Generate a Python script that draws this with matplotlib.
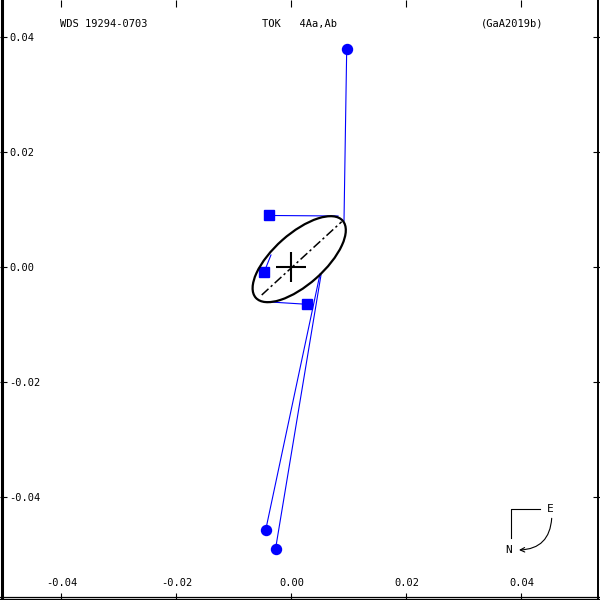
import numpy as np
import matplotlib
matplotlib.use("Agg")
import matplotlib.pyplot as plt
from matplotlib.patches import Ellipse

plt.rcParams['font.family'] = ['DejaVu Sans Mono']
plt.rcParams['axes.unicode_minus'] = False

# observed positions (arcsec) and the orbit positions they are tied to
obs_x = [0.0096, -0.00383, -0.00473, 0.00275, -0.00449, -0.00278]
obs_y = [0.03786, 0.00896, -0.00082, -0.00649, -0.04574, -0.04904]
obs_marker = ['o', 's', 's', 's', 'o', 'o']
calc_x = [0.00913, 0.00809, -0.00357, -0.00461, 0.00496, 0.00513]
calc_y = [0.0080, 0.00887, 0.00209, -0.00603, -0.00122, -0.00139]

# apparent orbit ellipse
orbit_center = (0.00134, 0.00136)
orbit_semi_major = 0.0101
orbit_semi_minor = 0.00443
orbit_angle = 41.6

# line of apsides
apsides_x = [-0.00518, 0.00873]
apsides_y = [-0.00487, 0.00788]

ticks = [-0.04, -0.02, 0.0, 0.02, 0.04]
tick_labels = ['-0.04', '-0.02', '0.00', '0.02', '0.04']

title_left = "WDS 19294-0703"
title_mid = "TOK   4Aa,Ab"
title_right = "(GaA2019b)"

PX = 600.0


def fx(px):
    return px / PX


def fy(py):
    return 1 - py / PX


fig = plt.figure(figsize=(6, 6), dpi=100)
ax = fig.add_axes([0, 0, 1, 1])
scale = 5750.0
ax.set_xlim(-291.5 / scale, (PX - 291.5) / scale)
ax.set_ylim(-(PX - 267) / scale, 267 / scale)

for s in ax.spines.values():
    s.set_visible(False)

# frame
ax.plot([fx(1.5), fx(1.5)], [0, 1], color='black', lw=2.2, transform=ax.transAxes, clip_on=False)
ax.plot([fx(597.8), fx(597.8)], [0, 1], color='black', lw=1.4, transform=ax.transAxes, clip_on=False)
for yy in [596.5, 599.2]:
    ax.plot([0, 1], [fy(yy), fy(yy)], color='black', lw=0.9, transform=ax.transAxes, clip_on=False)

ax.set_xticks(ticks)
ax.set_xticklabels(tick_labels)
ax.set_yticks(ticks)
ax.set_yticklabels(tick_labels)
ax.tick_params(direction='in', length=5, width=0.8, top=True, right=True,
               labelsize=7.5, colors='black')
ax.tick_params(axis='y', pad=-6.8)
ax.tick_params(axis='x', pad=-8.5)
for lab in ax.get_yticklabels():
    lab.set_horizontalalignment('left')
for lab in ax.get_xticklabels():
    lab.set_verticalalignment('bottom')

# O-C lines and observations
for x0, y0, x1, y1, m in zip(obs_x, obs_y, calc_x, calc_y, obs_marker):
    ax.plot([x0, x1], [y0, y1], color='#0000ff', lw=0.8, zorder=2)
    ax.plot(x0, y0, marker=m, color='#0000ff', ms=7.2 if m == 'o' else 6.8,
            mec='#0000ff', linestyle='none', zorder=3)

orbit = Ellipse(orbit_center, 2 * orbit_semi_major, 2 * orbit_semi_minor,
                angle=orbit_angle, fill=False, edgecolor='black', lw=1.6, zorder=4)
ax.add_patch(orbit)
ax.plot(apsides_x, apsides_y, color='black', lw=1.1, dashes=(6, 2, 1.5, 2), zorder=4)
ax.plot(0, 0, marker='+', color='black', ms=21, mew=1.5, zorder=5)

ax.text(fx(60), fy(24), title_left, transform=ax.transAxes, fontsize=7.5, va='center', ha='left')
ax.text(fx(262), fy(24), title_mid, transform=ax.transAxes, fontsize=7.5, va='center', ha='left')
ax.text(fx(481), fy(24), title_right, transform=ax.transAxes, fontsize=7.5, va='center', ha='left')

# orientation marker
ax.plot([fx(540), fx(510.7), fx(510.7)], [fy(509.3), fy(509.3), fy(538.3)],
        color='black', lw=0.8, transform=ax.transAxes)
ax.text(fx(550), fy(509), "E", transform=ax.transAxes, fontsize=8, ha='center', va='center')
ax.text(fx(508.3), fy(550), "N", transform=ax.transAxes, fontsize=8, ha='center', va='center')
ax.annotate("", xy=(fx(519), fy(550)), xytext=(fx(551.7), fy(518.3)),
            xycoords='axes fraction', textcoords='axes fraction',
            arrowprops=dict(arrowstyle='->', connectionstyle='arc3,rad=-0.45',
                            lw=0.8, color='black', shrinkA=0, shrinkB=0,
                            mutation_scale=8))

fig.savefig("out.png", dpi=100)
